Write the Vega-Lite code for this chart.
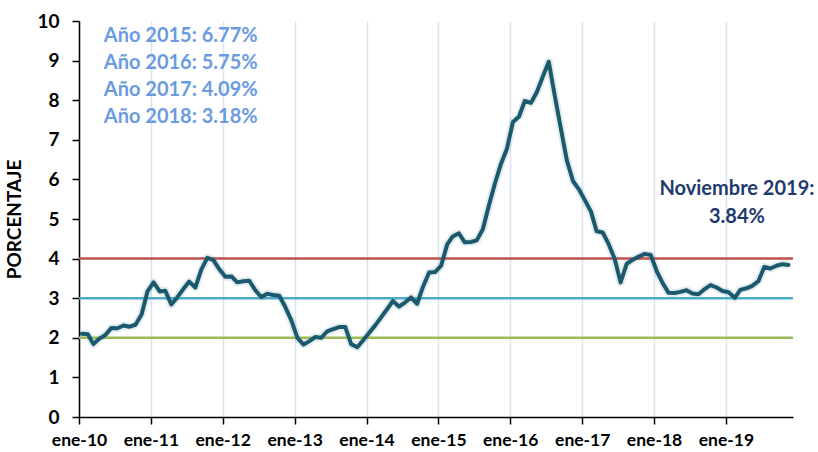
{
  "$schema": "https://vega.github.io/schema/vega-lite/v6.json",
  "width": 714,
  "height": 396,
  "autosize": "none",
  "padding": {"left": 79, "top": 21, "right": 25, "bottom": 35},
  "config": {"view": {"stroke": null}, "font": "Lato", "axisY": {"labelOverlap": false, "labelSeparation": -25}},
  "datasets": {
    "series": [
      {"date": "2010-01-15", "v": 2.10}, {"date": "2010-02-15", "v": 2.09}, {"date": "2010-03-15", "v": 1.84}, {"date": "2010-04-15", "v": 1.98}, {"date": "2010-05-15", "v": 2.07}, {"date": "2010-06-15", "v": 2.25}, {"date": "2010-07-15", "v": 2.24}, {"date": "2010-08-15", "v": 2.31}, {"date": "2010-09-15", "v": 2.28}, {"date": "2010-10-15", "v": 2.33}, {"date": "2010-11-15", "v": 2.59}, {"date": "2010-12-15", "v": 3.17},
      {"date": "2011-01-15", "v": 3.40}, {"date": "2011-02-15", "v": 3.17}, {"date": "2011-03-15", "v": 3.19}, {"date": "2011-04-15", "v": 2.84}, {"date": "2011-05-15", "v": 3.02}, {"date": "2011-06-15", "v": 3.23}, {"date": "2011-07-15", "v": 3.42}, {"date": "2011-08-15", "v": 3.27}, {"date": "2011-09-15", "v": 3.73}, {"date": "2011-10-15", "v": 4.02}, {"date": "2011-11-15", "v": 3.96}, {"date": "2011-12-15", "v": 3.73},
      {"date": "2012-01-15", "v": 3.54}, {"date": "2012-02-15", "v": 3.55}, {"date": "2012-03-15", "v": 3.40}, {"date": "2012-04-15", "v": 3.43}, {"date": "2012-05-15", "v": 3.44}, {"date": "2012-06-15", "v": 3.20}, {"date": "2012-07-15", "v": 3.03}, {"date": "2012-08-15", "v": 3.11}, {"date": "2012-09-15", "v": 3.08}, {"date": "2012-10-15", "v": 3.06}, {"date": "2012-11-15", "v": 2.77}, {"date": "2012-12-15", "v": 2.44},
      {"date": "2013-01-15", "v": 2.00}, {"date": "2013-02-15", "v": 1.83}, {"date": "2013-03-15", "v": 1.91}, {"date": "2013-04-15", "v": 2.02}, {"date": "2013-05-15", "v": 2.00}, {"date": "2013-06-15", "v": 2.16}, {"date": "2013-07-15", "v": 2.22}, {"date": "2013-08-15", "v": 2.27}, {"date": "2013-09-15", "v": 2.27}, {"date": "2013-10-15", "v": 1.84}, {"date": "2013-11-15", "v": 1.76}, {"date": "2013-12-15", "v": 1.94},
      {"date": "2014-01-15", "v": 2.13}, {"date": "2014-02-15", "v": 2.32}, {"date": "2014-03-15", "v": 2.51}, {"date": "2014-04-15", "v": 2.72}, {"date": "2014-05-15", "v": 2.93}, {"date": "2014-06-15", "v": 2.79}, {"date": "2014-07-15", "v": 2.89}, {"date": "2014-08-15", "v": 3.02}, {"date": "2014-09-15", "v": 2.86}, {"date": "2014-10-15", "v": 3.29}, {"date": "2014-11-15", "v": 3.65}, {"date": "2014-12-15", "v": 3.66},
      {"date": "2015-01-15", "v": 3.82}, {"date": "2015-02-15", "v": 4.36}, {"date": "2015-03-15", "v": 4.56}, {"date": "2015-04-15", "v": 4.64}, {"date": "2015-05-15", "v": 4.41}, {"date": "2015-06-15", "v": 4.42}, {"date": "2015-07-15", "v": 4.46}, {"date": "2015-08-15", "v": 4.74}, {"date": "2015-09-15", "v": 5.35}, {"date": "2015-10-15", "v": 5.89}, {"date": "2015-11-15", "v": 6.39}, {"date": "2015-12-15", "v": 6.77},
      {"date": "2016-01-15", "v": 7.45}, {"date": "2016-02-15", "v": 7.59}, {"date": "2016-03-15", "v": 7.98}, {"date": "2016-04-15", "v": 7.93}, {"date": "2016-05-15", "v": 8.20}, {"date": "2016-06-15", "v": 8.60}, {"date": "2016-07-15", "v": 8.97}, {"date": "2016-08-15", "v": 8.10}, {"date": "2016-09-15", "v": 7.27}, {"date": "2016-10-15", "v": 6.48}, {"date": "2016-11-15", "v": 5.96}, {"date": "2016-12-15", "v": 5.75},
      {"date": "2017-01-15", "v": 5.47}, {"date": "2017-02-15", "v": 5.18}, {"date": "2017-03-15", "v": 4.69}, {"date": "2017-04-15", "v": 4.66}, {"date": "2017-05-15", "v": 4.37}, {"date": "2017-06-15", "v": 3.99}, {"date": "2017-07-15", "v": 3.40}, {"date": "2017-08-15", "v": 3.87}, {"date": "2017-09-15", "v": 3.97}, {"date": "2017-10-15", "v": 4.05}, {"date": "2017-11-15", "v": 4.12}, {"date": "2017-12-15", "v": 4.09},
      {"date": "2018-01-15", "v": 3.68}, {"date": "2018-02-15", "v": 3.37}, {"date": "2018-03-15", "v": 3.14}, {"date": "2018-04-15", "v": 3.13}, {"date": "2018-05-15", "v": 3.16}, {"date": "2018-06-15", "v": 3.20}, {"date": "2018-07-15", "v": 3.12}, {"date": "2018-08-15", "v": 3.10}, {"date": "2018-09-15", "v": 3.23}, {"date": "2018-10-15", "v": 3.33}, {"date": "2018-11-15", "v": 3.27}, {"date": "2018-12-15", "v": 3.18},
      {"date": "2019-01-15", "v": 3.15}, {"date": "2019-02-15", "v": 3.01}, {"date": "2019-03-15", "v": 3.21}, {"date": "2019-04-15", "v": 3.25}, {"date": "2019-05-15", "v": 3.31}, {"date": "2019-06-15", "v": 3.43}, {"date": "2019-07-15", "v": 3.79}, {"date": "2019-08-15", "v": 3.75}, {"date": "2019-09-15", "v": 3.82}, {"date": "2019-10-15", "v": 3.86}, {"date": "2019-11-15", "v": 3.84}
    ],
    "rules": [
      {"v": 4, "band": "techo"},
      {"v": 3, "band": "meta"},
      {"v": 2, "band": "piso"}
    ],
    "notesLeft": [
      {"date": "2010-05-07", "v": 9.63, "label": "Año 2015: 6.77%"},
      {"date": "2010-05-07", "v": 8.95, "label": "Año 2016: 5.75%"},
      {"date": "2010-05-07", "v": 8.27, "label": "Año 2017: 4.09%"},
      {"date": "2010-05-07", "v": 7.57, "label": "Año 2018: 3.18%"}
    ],
    "notesRight": [
      {"date": "2019-02-26", "v": 5.75, "label": "Noviembre 2019:"},
      {"date": "2019-02-26", "v": 5.05, "label": "3.84%"}
    ]
  },
  "encoding": {
    "y": {
      "field": "v", "type": "quantitative",
      "scale": {"domain": [0, 10], "nice": false, "zero": true},
      "axis": {
        "title": "PORCENTAJE",
        "titleFont": "Lato", "titleFontSize": 19, "titleFontWeight": "bold", "titleColor": "#000000", "titlePadding": 12,
        "values": [0, 1, 2, 3, 4, 5, 6, 7, 8, 9, 10],
        "labelFont": "Lato", "labelFontSize": 19, "labelFontWeight": "bold", "labelColor": "#000000",
        "labelPadding": 13, "labelOverlap": false, "labelSeparation": -25, "labelFlush": false, "labelBound": false,
        "tickSize": 7, "tickColor": "#000000", "tickWidth": 1.5,
        "domainColor": "#000000", "domainWidth": 1.5,
        "grid": false
      }
    }
  },
  "layer": [
    {
      "data": {"name": "series"},
      "mark": {"type": "line", "color": "#1b5a6e", "strokeWidth": 8, "opacity": 0.12, "strokeJoin": "round"},
      "encoding": {
        "x": {
          "field": "date", "type": "temporal",
          "scale": {"type": "utc", "domain": [{"year": 2010, "month": 1, "date": 1, "utc": true}, {"year": 2019, "month": 12, "date": 8, "utc": true}]},
          "axis": {
            "title": null,
            "values": [
              {"year": 2010, "month": 1, "date": 1, "utc": true},
              {"year": 2011, "month": 1, "date": 1, "utc": true},
              {"year": 2012, "month": 1, "date": 1, "utc": true},
              {"year": 2013, "month": 1, "date": 1, "utc": true},
              {"year": 2014, "month": 1, "date": 1, "utc": true},
              {"year": 2015, "month": 1, "date": 1, "utc": true},
              {"year": 2016, "month": 1, "date": 1, "utc": true},
              {"year": 2017, "month": 1, "date": 1, "utc": true},
              {"year": 2018, "month": 1, "date": 1, "utc": true},
              {"year": 2019, "month": 1, "date": 1, "utc": true}
            ],
            "labelExpr": "'ene-' + utcFormat(datum.value, '%y')",
            "labelFont": "Lato", "labelFontSize": 17.5, "labelFontWeight": "bold", "labelColor": "#000000",
            "labelPadding": 7, "labelFlush": false, "labelOverlap": false,
            "tickSize": 7, "tickColor": "#000000", "tickWidth": 1.5,
            "domainColor": "#000000", "domainWidth": 1.5,
            "grid": true, "gridColor": "#d9e4f3", "gridWidth": 1.5
          }
        }
      }
    },
    {
      "data": {"name": "rules"},
      "mark": {"type": "rule", "strokeWidth": 2.5},
      "encoding": {
        "color": {
          "field": "band", "type": "nominal",
          "scale": {"domain": ["techo", "meta", "piso"], "range": ["#c0504d", "#4bacc6", "#9bbb59"]},
          "legend": null
        }
      }
    },
    {
      "data": {"name": "series"},
      "mark": {"type": "line", "color": "#1b5a6e", "strokeWidth": 4, "strokeJoin": "round", "strokeCap": "round"},
      "encoding": {
        "x": {"field": "date", "type": "temporal"}
      }
    },
    {
      "data": {"name": "notesLeft"},
      "mark": {"type": "text", "align": "left", "baseline": "middle", "font": "Lato", "fontSize": 20, "fontWeight": "bold", "color": "#6a9be0"},
      "encoding": {
        "x": {"field": "date", "type": "temporal"},
        "text": {"field": "label"}
      }
    },
    {
      "data": {"name": "notesRight"},
      "mark": {"type": "text", "align": "center", "baseline": "middle", "font": "Lato", "fontSize": 20, "fontWeight": "bold", "color": "#1f3a6e"},
      "encoding": {
        "x": {"field": "date", "type": "temporal"},
        "text": {"field": "label"}
      }
    }
  ]
}
